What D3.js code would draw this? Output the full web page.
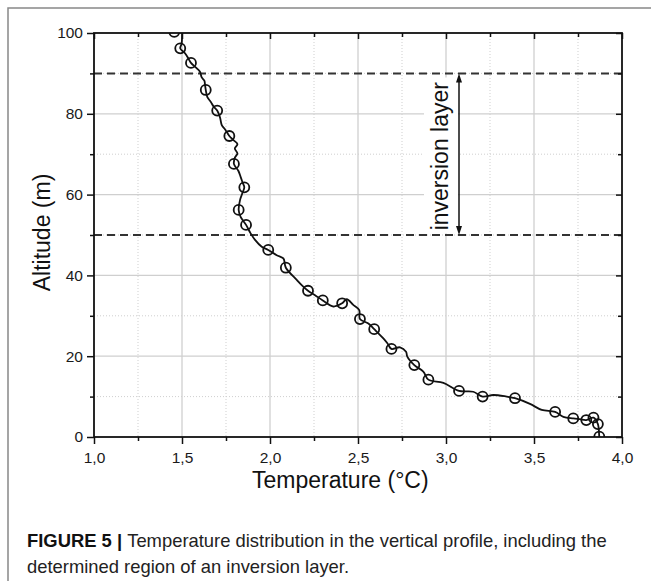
<!DOCTYPE html>
<html lang="en">
<head>
    <meta charset="UTF-8">
    <title>Temperature vertical profile</title>
    <script src="https://d3js.org/d3.v7.min.js"></script>
    <style>
        body { margin: 0; background: #fff; }
        svg { display: block; font-family: "Liberation Sans", Arial, sans-serif; }
        .grid-major { stroke: #cfcfcf; stroke-width: 1.3px; }
        .grid-minor { stroke: #cfcfcf; stroke-width: 1px; stroke-dasharray: 1,2; }
        .bound { stroke: #333; stroke-width: 2px; stroke-dasharray: 8,5; }
        .curve { fill: none; stroke: #111; stroke-width: 1.8px; }
        .mark { fill: none; stroke: #111; stroke-width: 1.8px; }
    </style>
</head>
<body>
    <svg width="651" height="581"></svg>

    <script>
        // tick labels
        const tempTicks = [1.0, 1.5, 2.0, 2.5, 3.0, 3.5, 4.0];
        const tempMinor = [1.25, 1.75, 2.25, 2.75, 3.25, 3.75];
        const altTicks = [0, 20, 40, 60, 80, 100];
        const altMinor = [10, 30, 50, 70, 90];

        // measured points (circles)
        const markTemp = [1.456, 1.49, 1.551, 1.635, 1.70, 1.769, 1.795, 1.854, 1.822, 1.864,
            1.99, 2.09, 2.216, 2.30, 2.41, 2.511, 2.592, 2.69, 2.82, 2.90,
            3.074, 3.208, 3.392, 3.62, 3.723, 3.797, 3.838, 3.863, 3.871];
        const markAlt = [100.3, 96.2, 92.6, 85.9, 80.8, 74.5, 67.6, 61.8, 56.2, 52.5,
            46.3, 41.9, 36.2, 33.8, 33.1, 29.2, 26.7, 21.8, 17.8, 14.2,
            11.4, 10.0, 9.6, 6.2, 4.6, 4.2, 4.8, 3.2, 0.1];

        // full profile (line)
        const lineTemp = [1.50, 1.498, 1.49, 1.517, 1.536, 1.551, 1.583, 1.602, 1.612, 1.627,
            1.631, 1.635, 1.644, 1.663, 1.678, 1.70, 1.716, 1.726, 1.744, 1.769,
            1.792, 1.815, 1.80, 1.815, 1.801, 1.795, 1.82, 1.833, 1.845, 1.854,
            1.841, 1.83, 1.822, 1.833, 1.864, 1.89, 1.915, 1.953, 1.99, 2.038,
            2.076, 2.09, 2.152, 2.18, 2.216, 2.256, 2.30, 2.36, 2.41, 2.436,
            2.473, 2.507, 2.511, 2.559, 2.592, 2.644, 2.667, 2.69, 2.739, 2.773,
            2.78, 2.82, 2.871, 2.90, 2.985, 3.074, 3.155, 3.208, 3.269, 3.345,
            3.392, 3.477, 3.544, 3.62, 3.667, 3.723, 3.761, 3.797, 3.838, 3.863,
            3.871, 3.875];
        const lineAlt = [101, 97.4, 96.2, 95.0, 93.7, 92.6, 91.3, 90.4, 89.0, 88.2,
            87.1, 85.9, 84.1, 83.0, 81.9, 80.8, 79.1, 77.2, 76.2, 74.5,
            73.5, 72.5, 71.4, 70.2, 69.2, 67.6, 65.9, 64.4, 62.9, 61.8,
            60.1, 58.7, 56.2, 54.5, 52.5, 50.4, 48.8, 47.1, 46.3, 45.0,
            44.2, 41.9, 38.9, 37.6, 36.2, 35.1, 33.8, 32.3, 33.1, 34.1,
            32.7, 31.4, 29.2, 28.1, 26.7, 24.4, 23.2, 21.8, 22.2, 21.1,
            19.9, 17.8, 16.2, 14.2, 13.4, 11.4, 11.2, 10.0, 10.4, 10.0,
            9.6, 8.2, 6.7, 6.2, 5.0, 4.6, 4.4, 4.2, 4.8, 3.2,
            0.1, -1];

        // inversion layer bounds
        const layerTop = 90;
        const layerBottom = 50;

        const pLeft = 94, pRight = 622, pTop = 33, pBottom = 437;

        const x = d3.scaleLinear().domain([1, 4]).range([pLeft, pRight]);
        const y = d3.scaleLinear().domain([0, 100]).range([pBottom, pTop]);

        const svg = d3.select("svg");

        // figure frame (cut off at the page edge)
        svg.append("rect")
            .attr("x", 8).attr("y", 8)
            .attr("width", 700).attr("height", 700)
            .attr("fill", "none")
            .attr("stroke", "#888")
            .attr("stroke-width", 1.5);

        svg.append("clipPath").attr("id", "plot")
            .append("rect")
            .attr("x", pLeft).attr("y", pTop)
            .attr("width", pRight - pLeft).attr("height", pBottom - pTop);

        // grid
        const grid = svg.append("g");
        grid.selectAll(".gx").data(tempTicks.slice(1, -1)).enter().append("line")
            .attr("class", "grid-major")
            .attr("x1", d => x(d)).attr("x2", d => x(d))
            .attr("y1", pTop).attr("y2", pBottom);
        grid.selectAll(".gxm").data(tempMinor).enter().append("line")
            .attr("class", "grid-minor")
            .attr("x1", d => x(d)).attr("x2", d => x(d))
            .attr("y1", pTop).attr("y2", pBottom);
        grid.selectAll(".gy").data(altTicks.slice(1, -1)).enter().append("line")
            .attr("class", "grid-major")
            .attr("x1", pLeft).attr("x2", pRight)
            .attr("y1", d => y(d)).attr("y2", d => y(d));
        grid.selectAll(".gym").data(altMinor).enter().append("line")
            .attr("class", "grid-minor")
            .attr("x1", pLeft).attr("x2", pRight)
            .attr("y1", d => y(d)).attr("y2", d => y(d));

        // white box behind the label
        svg.append("rect")
            .attr("x", 424).attr("y", y(layerTop - 1))
            .attr("width", 34).attr("height", y(layerBottom + 0.4) - y(layerTop - 1))
            .attr("fill", "#fff");

        // dashed bounds
        svg.selectAll(".bound").data([layerTop, layerBottom]).enter().append("line")
            .attr("class", "bound")
            .attr("x1", pLeft).attr("x2", pRight)
            .attr("y1", d => y(d)).attr("y2", d => y(d));

        // profile line and markers
        const plot = svg.append("g").attr("clip-path", "url(#plot)");
        const pts = lineTemp.map((t, i) => [t, lineAlt[i]]);
        plot.append("path")
            .attr("class", "curve")
            .attr("d", d3.line()
                .x(d => x(d[0]))
                .y(d => y(d[1]))
                .curve(d3.curveCatmullRom.alpha(0.5))(pts));

        plot.selectAll(".mark").data(markTemp.map((t, i) => [t, markAlt[i]])).enter()
            .append("circle")
            .attr("class", "mark")
            .attr("cx", d => x(d[0]))
            .attr("cy", d => y(d[1]))
            .attr("r", 5);

        // axes
        const fmt = d => d.toFixed(1).replace(".", ",");
        const xAx = svg.append("g").attr("transform", `translate(0,${pBottom})`)
            .call(d3.axisBottom(x).tickValues(tempTicks).tickFormat(fmt).tickSize(7).tickPadding(8).tickSizeOuter(0));
        svg.append("g").attr("transform", `translate(0,${pBottom})`)
            .call(d3.axisBottom(x).tickValues(tempMinor).tickFormat("").tickSize(4).tickSizeOuter(0));
        const yAx = svg.append("g").attr("transform", `translate(${pLeft},0)`)
            .call(d3.axisLeft(y).tickValues(altTicks).tickSize(7).tickPadding(4).tickSizeOuter(0));
        svg.append("g").attr("transform", `translate(${pLeft},0)`)
            .call(d3.axisLeft(y).tickValues(altMinor).tickFormat("").tickSize(4).tickSizeOuter(0));
        // mirrored ticks, pointing inwards
        svg.append("g").attr("transform", `translate(0,${pTop})`)
            .call(d3.axisBottom(x).tickValues(tempTicks).tickFormat("").tickSize(6).tickSizeOuter(0));
        svg.append("g").attr("transform", `translate(0,${pTop})`)
            .call(d3.axisBottom(x).tickValues(tempMinor).tickFormat("").tickSize(4).tickSizeOuter(0));
        svg.append("g").attr("transform", `translate(${pRight},0)`)
            .call(d3.axisLeft(y).tickValues(altTicks).tickFormat("").tickSize(6).tickSizeOuter(0));
        svg.append("g").attr("transform", `translate(${pRight},0)`)
            .call(d3.axisLeft(y).tickValues(altMinor).tickFormat("").tickSize(4).tickSizeOuter(0));
        svg.selectAll(".domain").remove();
        svg.selectAll(".tick line").attr("stroke", "#111").attr("stroke-width", 1.5);
        [xAx, yAx].forEach(g => g
            .attr("font-family", "'Liberation Sans', Arial, sans-serif")
            .attr("font-size", 15.5)
            .selectAll("text").attr("fill", "#1a1a1a"));

        svg.append("rect")
            .attr("x", pLeft).attr("y", pTop)
            .attr("width", pRight - pLeft).attr("height", pBottom - pTop)
            .attr("fill", "none")
            .attr("stroke", "#111")
            .attr("stroke-width", 1.8);

        // double arrow for the inversion layer
        const ax = 459;
        svg.append("line")
            .attr("x1", ax).attr("x2", ax)
            .attr("y1", y(layerTop) + 4).attr("y2", y(layerBottom) - 4)
            .attr("stroke", "#111").attr("stroke-width", 1.5);
        svg.append("path")
            .attr("d", `M${ax},${y(layerTop)} l-3,9 l6,0 z M${ax},${y(layerBottom)} l-3,-9 l6,0 z`)
            .attr("fill", "#111");

        svg.append("text")
            .attr("transform", `translate(448,${(y(layerTop) + y(layerBottom)) / 2 + 2}) rotate(-90)`)
            .attr("text-anchor", "middle")
            .attr("font-size", 23)
            .attr("fill", "#111")
            .text("inversion layer");

        // axis titles
        svg.append("text")
            .attr("transform", `translate(50,232.5) rotate(-90)`)
            .attr("text-anchor", "middle")
            .attr("font-size", 23)
            .attr("fill", "#111")
            .text("Altitude (m)");
        svg.append("text")
            .attr("x", 252).attr("y", 488)
            .attr("font-size", 23)
            .attr("fill", "#111")
            .text("Temperature (°C)");

        // caption
        const cap = svg.append("g").attr("font-size", 18.4).attr("fill", "#222");
        const l1 = cap.append("text").attr("x", 27).attr("y", 547);
        l1.append("tspan").attr("font-weight", "bold").attr("fill", "#111").text("FIGURE 5 | ");
        l1.append("tspan").text("Temperature distribution in the vertical profile, including the");
        cap.append("text").attr("x", 27).attr("y", 573)
            .text("determined region of an inversion layer.");
    </script>
</body>
</html>
